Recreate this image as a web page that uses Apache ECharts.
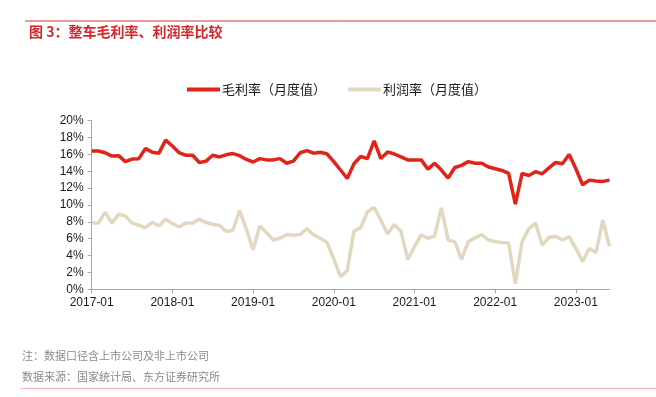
<!DOCTYPE html>
<html>
<head>
<meta charset="utf-8">
<script src="https://cdn.jsdelivr.net/npm/echarts@6/dist/echarts.min.js"></script>
<style>
  html, body { margin: 0; padding: 0; background: #fff; }
  #chart { width: 656px; height: 397px; }
</style>
</head>
<body>
<div id="chart"></div>
<script>
// monthly categories 2017-01 .. 2023-06
const months = [];
for (let y = 2017; y <= 2023; y++) {
    for (let m = 1; m <= 12; m++) {
        if (y === 2023 && m > 6) break;
        months.push(y + '-' + (m < 10 ? '0' + m : m));
    }
}

// 毛利率（月度值）, %
const grossMargin = [
    16.4, 16.4, 16.2, 15.8, 15.85, 15.15, 15.45, 15.5, 16.7, 16.25, 16.15, 17.7,
    17.0, 16.2, 15.9, 15.9, 15.05, 15.2, 15.9, 15.7, 15.95, 16.1, 15.85, 15.4,
    15.1, 15.5, 15.35, 15.35, 15.5, 14.95, 15.2, 16.2, 16.45, 16.15, 16.25, 16.05,
    15.15, 14.15, 13.15, 14.9, 15.75, 15.5, 17.6, 15.5, 16.3, 16.05, 15.7, 15.35,
    15.35, 15.35, 14.25, 14.95, 14.15, 13.2, 14.45, 14.7, 15.15, 14.95, 14.95, 14.5,
    14.3, 14.1, 13.75, 10.1, 13.75, 13.5, 13.95, 13.7, 14.4, 15.05, 14.9, 16.0,
    14.3, 12.4, 12.95, 12.85, 12.8, 12.95
];

// 利润率（月度值）, %
const profitMargin = [
    7.85, 7.85, 9.15, 7.85, 8.9, 8.7, 7.85, 7.6, 7.3, 7.95, 7.5, 8.3,
    7.8, 7.4, 7.85, 7.85, 8.3, 7.95, 7.7, 7.6, 6.85, 7.0, 9.35, 7.1,
    4.7, 7.5, 6.7, 5.85, 6.05, 6.5, 6.4, 6.5, 7.2, 6.45, 6.05, 5.55,
    3.6, 1.5, 2.2, 6.9, 7.3, 9.2, 9.7, 8.2, 6.55, 7.7, 6.85, 3.55,
    5.05, 6.45, 6.05, 6.35, 9.65, 5.85, 5.65, 3.56, 5.65, 6.1, 6.5, 5.85,
    5.65, 5.55, 5.5, 0.65, 5.65, 7.2, 7.85, 5.25, 6.15, 6.3, 5.85, 6.25,
    4.85, 3.3, 4.85, 4.35, 8.2, 5.1
];

const seriesNames = ['毛利率（月度值）', '利润率（月度值）'];
const seriesColors = ['#e2231a', '#e2d8c0'];
const yTicks = [0, 2, 4, 6, 8, 10, 12, 14, 16, 18, 20];

const chart = echarts.init(document.getElementById('chart'), null, { renderer: 'canvas' });

const cjk = '"Noto Sans CJK SC", "Noto Sans", sans-serif';
const latin = '"Liberation Sans", Arial, sans-serif';

const option = {
    backgroundColor: '#ffffff',
    animation: false,
    graphic: [
        // top rule
        { type: 'line', shape: { x1: 25, y1: 21, x2: 656, y2: 21 }, style: { stroke: '#d9352f', lineWidth: 1 } },
        {
            type: 'text', left: 29, top: 25,
            style: { text: '图 3：整车毛利率、利润率比较', fill: '#d7262b', font: 'bold 14px ' + cjk }
        },
        {
            type: 'text', left: 22, top: 350,
            style: { text: '注：数据口径含上市公司及非上市公司', fill: '#8a8a8a', font: '11px ' + cjk }
        },
        {
            type: 'text', left: 22, top: 371,
            style: { text: '数据来源：国家统计局、东方证券研究所', fill: '#8a8a8a', font: '11px ' + cjk }
        },
        // bottom rule
        { type: 'line', shape: { x1: 20, y1: 388.5, x2: 656, y2: 388.5 }, style: { stroke: '#f3b3b3', lineWidth: 1 } }
    ],
    legend: {
        top: 83,
        left: 187,
        padding: 0,
        itemWidth: 33,
        itemHeight: 4,
        itemGap: 22,
        icon: 'rect',
        textStyle: { fontFamily: cjk, fontSize: 13, color: '#1a1a1a', padding: [0, 0, 0, -3] },
        data: seriesNames
    },
    grid: {
        left: 91.7,
        right: 46.5,
        top: 120.7,
        bottom: 107.7,
        containLabel: false
    },
    xAxis: {
        type: 'category',
        data: months,
        boundaryGap: false,
        axisLine: { lineStyle: { color: '#a6a6a6', width: 1 } },
        axisTick: {
            show: true,
            length: 4,
            lineStyle: { color: '#a6a6a6' },
            interval: function (idx) { return idx % 12 === 0; }
        },
        axisLabel: {
            interval: function (idx) { return idx % 12 === 0; },
            color: '#1a1a1a',
            fontFamily: latin,
            fontSize: 12,
            margin: 7
        },
        splitLine: { show: false }
    },
    yAxis: {
        type: 'value',
        min: yTicks[0],
        max: yTicks[yTicks.length - 1],
        interval: 2,
        axisLine: { show: true, lineStyle: { color: '#a6a6a6', width: 1 } },
        axisTick: { show: true, length: 4, lineStyle: { color: '#a6a6a6' } },
        axisLabel: {
            color: '#1a1a1a',
            fontFamily: latin,
            fontSize: 12,
            margin: 8,
            formatter: '{value}%'
        },
        splitLine: { show: false }
    },
    series: [
        {
            name: seriesNames[0],
            type: 'line',
            data: grossMargin,
            showSymbol: false,
            symbol: 'none',
            itemStyle: { color: seriesColors[0] },
            lineStyle: { color: seriesColors[0], width: 3.5 },
            z: 3
        },
        {
            name: seriesNames[1],
            type: 'line',
            data: profitMargin,
            showSymbol: false,
            symbol: 'none',
            itemStyle: { color: seriesColors[1] },
            lineStyle: { color: seriesColors[1], width: 3.5 },
            z: 2
        }
    ]
};

chart.setOption(option);
</script>
</body>
</html>
